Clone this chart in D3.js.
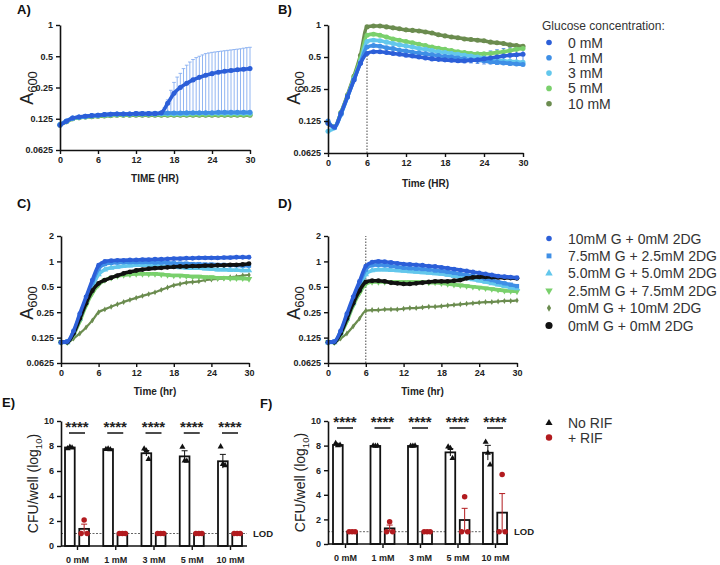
<!DOCTYPE html>
<html><head><meta charset="utf-8">
<script src="https://cdn.jsdelivr.net/npm/d3@7"></script>
<style>
body{margin:0;background:#fff;}
svg{display:block;font-family:"Liberation Sans",Arial,sans-serif;}
</style></head><body>
<svg id="c" width="720" height="565"></svg>
<script>
// ---------- DATA ----------
const hours = [0,1,2,3,4,5,6,7,8,9,10,11,12,13,14,15,16,17,18,19,20,21,22,23,24,25,26,27,28,29,30];
const xTicks = [0,6,12,18,24,30];
const yTicksAB = [0.0625,0.125,0.25,0.5,1];
const yTicksCD = [0.0625,0.125,0.25,0.5,1,2];

// Panel A
const glucoseLabels = ["0 mM","1 mM","3 mM","5 mM","10 mM"];
const a0  = [0.108,0.118,0.127,0.130,0.132,0.134,0.135,0.137,0.138,0.139,0.139,0.139,0.140,0.140,0.140,0.140,0.143,0.176,0.220,0.250,0.274,0.296,0.313,0.328,0.340,0.350,0.358,0.364,0.370,0.375,0.380];
const a1  = [0.110,0.119,0.127,0.130,0.132,0.134,0.135,0.137,0.138,0.139,0.139,0.139,0.140,0.140,0.140,0.141,0.141,0.142,0.142,0.142,0.143,0.143,0.143,0.143,0.143,0.144,0.144,0.144,0.144,0.144,0.144];
const a3  = [0.110,0.118,0.126,0.129,0.131,0.133,0.134,0.136,0.137,0.138,0.138,0.138,0.139,0.139,0.139,0.139,0.140,0.140,0.140,0.140,0.140,0.141,0.141,0.141,0.141,0.141,0.141,0.141,0.141,0.141,0.141];
const a5  = [0.109,0.117,0.125,0.128,0.130,0.132,0.133,0.134,0.135,0.136,0.136,0.136,0.137,0.137,0.137,0.137,0.137,0.137,0.137,0.137,0.137,0.137,0.137,0.137,0.137,0.137,0.137,0.137,0.137,0.137,0.137];
const a10 = [0.109,0.117,0.125,0.128,0.130,0.131,0.132,0.133,0.134,0.135,0.135,0.135,0.135,0.135,0.135,0.135,0.135,0.135,0.135,0.135,0.135,0.135,0.135,0.135,0.135,0.135,0.135,0.135,0.135,0.135,0.135];
const errTA  = [16,16.5,17,17.5,18,18.5,19,19.5,20,20.5,21,21.5,22,22.5,23,23.5,24,24.5,25,25.5,26,26.5,27,27.5,28,28.5,29,29.5,30];
const errUpA = [0.143,0.16,0.19,0.235,0.28,0.315,0.342,0.38,0.41,0.44,0.465,0.485,0.50,0.515,0.53,0.538,0.545,0.55,0.555,0.56,0.565,0.57,0.575,0.58,0.585,0.59,0.598,0.605,0.61];
const errLoA = [0.142,0.142,0.142,0.142,0.143,0.143,0.143,0.143,0.143,0.143,0.143,0.143,0.143,0.143,0.143,0.143,0.143,0.143,0.143,0.143,0.143,0.143,0.143,0.143,0.143,0.143,0.143,0.143,0.143];

// Panel B
const b0  = [0.119,0.110,0.148,0.212,0.304,0.436,0.54,0.56,0.56,0.55,0.54,0.53,0.52,0.51,0.50,0.49,0.48,0.475,0.47,0.465,0.46,0.46,0.465,0.47,0.48,0.49,0.50,0.51,0.52,0.525,0.53];
const b1  = [0.125,0.108,0.145,0.21,0.305,0.44,0.62,0.64,0.63,0.61,0.60,0.58,0.57,0.555,0.545,0.535,0.525,0.515,0.505,0.50,0.49,0.48,0.47,0.465,0.46,0.45,0.445,0.44,0.435,0.43,0.425];
const b3  = [0.10,0.108,0.145,0.21,0.31,0.45,0.70,0.72,0.71,0.69,0.67,0.65,0.635,0.62,0.60,0.59,0.575,0.56,0.55,0.54,0.53,0.52,0.51,0.50,0.49,0.48,0.47,0.46,0.455,0.45,0.445];
const b5  = [0.12,0.11,0.15,0.215,0.32,0.48,0.80,0.82,0.80,0.77,0.74,0.72,0.70,0.68,0.66,0.64,0.62,0.605,0.59,0.575,0.56,0.55,0.54,0.535,0.535,0.54,0.55,0.56,0.575,0.59,0.60];
const b10 = [0.12,0.11,0.15,0.22,0.33,0.52,0.96,0.98,0.98,0.96,0.94,0.92,0.90,0.89,0.88,0.86,0.84,0.81,0.79,0.77,0.76,0.74,0.73,0.72,0.71,0.69,0.68,0.67,0.65,0.64,0.63];
const errTB  = [20,21,22,23,24,25,26,27,28,29,30];
const errUpB = [0.47,0.49,0.51,0.53,0.55,0.57,0.585,0.60,0.61,0.62,0.63];
const errLoB = [0.45,0.44,0.44,0.435,0.43,0.43,0.425,0.425,0.42,0.42,0.42];

// Panels C & D
const mixLabels = ["10mM G + 0mM 2DG","7.5mM G + 2.5mM 2DG","5.0mM G + 5.0mM 2DG","2.5mM G + 7.5mM 2DG","0mM G + 10mM 2DG","0mM G + 0mM 2DG"];
const c10  = [0.11,0.112,0.15,0.24,0.38,0.60,0.90,1.00,1.02,1.03,1.03,1.04,1.04,1.05,1.05,1.06,1.06,1.07,1.08,1.08,1.09,1.09,1.10,1.10,1.10,1.10,1.11,1.11,1.12,1.12,1.12];
const c75  = [0.11,0.112,0.145,0.23,0.36,0.56,0.82,0.93,0.96,0.97,0.98,0.98,0.98,0.98,0.98,0.97,0.97,0.96,0.95,0.94,0.94,0.93,0.93,0.92,0.92,0.91,0.91,0.90,0.90,0.89,0.89];
const c50  = [0.11,0.11,0.14,0.21,0.33,0.50,0.70,0.80,0.84,0.86,0.88,0.89,0.90,0.90,0.90,0.89,0.88,0.87,0.86,0.85,0.84,0.83,0.83,0.82,0.81,0.80,0.80,0.79,0.79,0.78,0.78];
const c25  = [0.11,0.11,0.135,0.195,0.30,0.42,0.53,0.60,0.64,0.67,0.69,0.70,0.71,0.71,0.71,0.71,0.70,0.69,0.68,0.68,0.67,0.66,0.66,0.65,0.65,0.64,0.64,0.63,0.63,0.63,0.62];
const c00  = [0.11,0.11,0.122,0.14,0.165,0.20,0.25,0.27,0.29,0.31,0.33,0.35,0.37,0.39,0.41,0.43,0.46,0.49,0.52,0.54,0.56,0.57,0.58,0.60,0.61,0.62,0.63,0.65,0.66,0.68,0.69];
const cCtl = [0.11,0.11,0.14,0.21,0.32,0.45,0.55,0.60,0.64,0.68,0.72,0.75,0.78,0.80,0.82,0.83,0.84,0.85,0.86,0.87,0.87,0.88,0.88,0.89,0.89,0.90,0.90,0.91,0.91,0.92,0.94];

const d10  = [0.11,0.112,0.15,0.24,0.38,0.58,0.88,0.98,1.00,0.99,0.97,0.95,0.93,0.92,0.91,0.90,0.88,0.87,0.85,0.83,0.81,0.79,0.77,0.75,0.73,0.71,0.69,0.67,0.66,0.65,0.64];
const d75  = [0.11,0.112,0.145,0.23,0.36,0.55,0.80,0.90,0.91,0.90,0.88,0.86,0.84,0.83,0.82,0.81,0.80,0.78,0.77,0.75,0.73,0.71,0.69,0.67,0.65,0.62,0.60,0.57,0.55,0.53,0.51];
const d50  = [0.11,0.11,0.14,0.21,0.32,0.48,0.70,0.78,0.80,0.80,0.79,0.78,0.77,0.76,0.75,0.74,0.73,0.72,0.71,0.69,0.67,0.65,0.63,0.61,0.59,0.57,0.55,0.53,0.51,0.49,0.48];
const d25  = [0.11,0.11,0.135,0.195,0.30,0.42,0.54,0.57,0.57,0.57,0.57,0.57,0.57,0.57,0.57,0.57,0.56,0.56,0.55,0.54,0.53,0.52,0.51,0.50,0.49,0.48,0.47,0.46,0.45,0.445,0.44];
const d00  = [0.11,0.11,0.122,0.14,0.17,0.21,0.26,0.265,0.265,0.27,0.27,0.27,0.275,0.28,0.28,0.285,0.29,0.29,0.295,0.30,0.305,0.31,0.315,0.32,0.325,0.33,0.33,0.335,0.34,0.34,0.345];
const dCtl = [0.11,0.11,0.14,0.21,0.32,0.45,0.57,0.59,0.59,0.58,0.56,0.55,0.54,0.54,0.55,0.56,0.57,0.58,0.58,0.58,0.59,0.60,0.63,0.645,0.655,0.655,0.65,0.645,0.64,0.635,0.63];

// Panels E & F
const cfuCats = ["0 mM","1 mM","3 mM","5 mM","10 mM"];
const eNoMean = [7.88,7.75,7.42,7.17,6.78];
const eNoSem  = [0.05,0.03,0.22,0.45,0.55];
const eNoPts  = [[7.80,7.92,7.86],[7.74,7.78,7.72],[7.78,7.62,6.95],[7.92,6.82,6.80],[7.95,6.55,6.45]];
const eRifMean = [1.37,1.0,1.0,1.0,1.0];
const eRifSem  = [0.38,0,0,0,0];
const eRifPts  = [[2.08,1.0,1.0],[1,1,1],[1,1,1],[1,1,1],[1,1,1]];
const fNoMean = [8.05,7.97,7.97,7.45,7.42];
const fNoSem  = [0.08,0.03,0.02,0.3,0.6];
const fNoPts  = [[8.20,8.00,8.05],[7.98,7.96,7.97],[7.97,7.96,7.98],[7.90,7.78,6.97],[8.30,7.40,6.45]];
const fRifMean = [1.0,1.27,1.0,1.95,2.55];
const fRifSem  = [0,0.27,0,0.95,1.55];
const fRifPts  = [[1,1,1],[1.81,1,1],[1,1,1],[3.85,1,1],[5.65,1,1]];
const lodValue = 1;

// ---------- STYLE ----------
const COL = {blue:"#2c5fd8", mblue:"#3f8fe6", cyan:"#63c7ec", green:"#7ad06c", olive:"#6b8c4f", black:"#111", red:"#b21b1f"};
const svg = d3.select("#c");

function styleAxis(g){
  g.select(".domain").attr("stroke","#111").attr("stroke-width",1.6);
  g.selectAll(".tick line").attr("stroke","#111").attr("stroke-width",1.4);
  g.selectAll(".tick text").attr("font-size",9).attr("font-weight","bold").attr("fill","#222")
    .attr("font-family",'"Liberation Sans",Arial,sans-serif');
}
function panelLabel(txt,x,y){
  svg.append("text").attr("x",x).attr("y",y).attr("font-size",13).attr("font-weight","bold").attr("fill","#111").text(txt);
}
function a600(x,y){
  const t = svg.append("text").attr("transform",`translate(${x},${y}) rotate(-90)`).attr("text-anchor","middle").attr("fill","#222");
  t.append("tspan").attr("font-size",18).text("A");
  t.append("tspan").attr("font-size",13).attr("dy",4).text("600");
}
function symbolPath(sym,size){ return d3.symbol(sym,size)(); }

function linePanel(p){
  const x = d3.scaleLinear().domain([0,30]).range([p.x0,p.x1]);
  const y = d3.scaleLog().base(2).domain(p.yDomain).range([p.yBot,p.yTop]);
  const g = svg.append("g");
  if(p.dash){
    g.append("line").attr("x1",x(p.dash.t)).attr("x2",x(p.dash.t))
      .attr("y1",y(p.yDomain[0])).attr("y2",y(p.dash.top))
      .attr("stroke","#333").attr("stroke-width",0.9).attr("stroke-dasharray","1.5,1.5");
  }
  (p.errs||[]).forEach(e=>{
    const eg = g.append("g").attr("stroke",e.color).attr("stroke-width",0.9);
    e.t.forEach((t,i)=>{
      eg.append("line").attr("x1",x(t)).attr("x2",x(t)).attr("y1",y(e.lo[i])).attr("y2",y(e.up[i]));
      eg.append("line").attr("x1",x(t)-1.8).attr("x2",x(t)+1.8).attr("y1",y(e.up[i])).attr("y2",y(e.up[i]));
      eg.append("line").attr("x1",x(t)-1.8).attr("x2",x(t)+1.8).attr("y1",y(e.lo[i])).attr("y2",y(e.lo[i]));
    });
  });
  p.series.forEach(s=>{
    const line = d3.line().x((d,i)=>x(hours[i])).y(d=>y(d)).curve(d3.curveMonotoneX);
    g.append("path").attr("d",line(s.v)).attr("fill","none").attr("stroke",s.color).attr("stroke-width",s.w||3.6);
    g.selectAll(null).data(s.v).join("path")
      .attr("d",symbolPath(s.sym||d3.symbolCircle,s.size||20))
      .attr("transform",(d,i)=>`translate(${x(hours[i])},${y(d)})${s.rot?" rotate(180)":""}`)
      .attr("fill",s.color);
  });
  const ya = g.append("g").attr("transform",`translate(${p.x0},0)`)
    .call(d3.axisLeft(y).tickValues(p.yTicks).tickFormat(d=>String(d)).tickSize(4).tickSizeOuter(0));
  styleAxis(ya);
  const xa = g.append("g").attr("transform",`translate(0,${p.yBot})`)
    .call(d3.axisBottom(x).tickValues(xTicks).tickFormat(d=>String(d)).tickSize(4).tickSizeOuter(0));
  styleAxis(xa);
  svg.append("text").attr("x",(p.x0+p.x1)/2).attr("y",p.titleY).attr("text-anchor","middle")
    .attr("font-size",10).attr("font-weight","bold").attr("fill","#222").text(p.xTitle);
}

// Panel A
panelLabel("A)",17,14);
a600(33,88);
linePanel({x0:60,x1:250,yTop:25,yBot:150,yDomain:[0.0625,1],yTicks:yTicksAB,xTitle:"TIME (HR)",titleY:182,
  errs:[{t:errTA,up:errUpA,lo:errLoA,color:"#86aef0"}],
  series:[{v:a10,color:COL.olive},{v:a5,color:COL.green},{v:a3,color:COL.cyan},{v:a1,color:COL.mblue},{v:a0,color:COL.blue}]});

// Panel B
panelLabel("B)",278,14);
a600(300,88);
linePanel({x0:328,x1:523,yTop:25,yBot:153,yDomain:[0.0625,1],yTicks:yTicksAB,xTitle:"Time (HR)",titleY:187,
  dash:{t:6,top:b0[6]},
  errs:[{t:errTB,up:errUpB,lo:errLoB,color:"#4f86e4"}],
  series:[{v:b10,color:COL.olive},{v:b5,color:COL.green},{v:b3,color:COL.cyan},{v:b1,color:COL.mblue},{v:b0,color:COL.blue}]});
// legend B
svg.append("text").attr("x",542).attr("y",30).attr("font-size",12).attr("fill","#333").text("Glucose concentration:");
const bCols = [COL.blue,COL.mblue,COL.cyan,COL.green,COL.olive];
glucoseLabels.forEach((l,i)=>{
  const yy = 42.5 + i*15.3;
  svg.append("circle").attr("cx",549).attr("cy",yy).attr("r",2.8).attr("fill",bCols[i]);
  svg.append("text").attr("x",568).attr("y",yy+5).attr("font-size",14).attr("fill","#333").text(l);
});

// Panel C
panelLabel("C)",17,208);
a600(33,303);
const mixCols = [COL.blue,COL.mblue,COL.cyan,COL.green,COL.olive,COL.black];
const mixSyms = [d3.symbolCircle,d3.symbolSquare,d3.symbolTriangle,d3.symbolTriangle,d3.symbolDiamond,d3.symbolCircle];
function mixSeries(arrs){
  const order = [4,3,2,1,5,0];
  return order.map(i=>({v:arrs[i],color:mixCols[i],sym:mixSyms[i],rot:i===3,size:i===4?10:18,w:i===4?2.2:3.6}));
}
linePanel({x0:61,x1:249,yTop:236,yBot:363,yDomain:[0.0625,2],yTicks:yTicksCD,xTitle:"Time (hr)",titleY:395,
  series:mixSeries([c10,c75,c50,c25,c00,cCtl])});

// Panel D
panelLabel("D)",278,208);
a600(300,303);
linePanel({x0:328,x1:517,yTop:236,yBot:363,yDomain:[0.0625,2],yTicks:yTicksCD,xTitle:"Time (hr)",titleY:395,
  dash:{t:6,top:2},
  series:mixSeries([d10,d75,d50,d25,d00,dCtl])});
// legend D
mixLabels.forEach((l,i)=>{
  const yy = 238.5 + i*17.4;
  svg.append("path").attr("d",symbolPath(mixSyms[i], i===5?40:(i===4?16:24)))
    .attr("transform",`translate(549,${yy})${i===3?" rotate(180)":""}`).attr("fill",mixCols[i]);
  svg.append("text").attr("x",568).attr("y",yy+5).attr("font-size",14).attr("fill","#333").text(l);
});

// Bar panels
function barPanel(p){
  const y = d3.scaleLinear().domain([0,10]).range([p.yBot,p.yTop]);
  const x = d3.scalePoint().domain(cfuCats).range([p.c0,p.c1]);
  const sub = d3.scaleBand().domain(["no","rif"]).range([-12,12]).paddingInner(0.32);
  const g = svg.append("g");
  // LOD
  g.append("line").attr("x1",p.x0).attr("x2",p.xEnd).attr("y1",y(lodValue)).attr("y2",y(lodValue))
    .attr("stroke","#666").attr("stroke-width",1).attr("stroke-dasharray","2,1.5");
  g.append("text").attr("x",p.xEnd+6).attr("y",y(lodValue)+3.5).attr("font-size",9.5).attr("font-weight","bold").attr("fill","#222").text("LOD");
  const groups = [{k:"no",mean:p.noMean,sem:p.noSem,pts:p.noPts,col:"#111",sym:d3.symbolTriangle},
                  {k:"rif",mean:p.rifMean,sem:p.rifSem,pts:p.rifPts,col:COL.red,sym:d3.symbolCircle}];
  groups.forEach(gr=>{
    cfuCats.forEach((c,i)=>{
      const bx = x(c)+sub(gr.k), bw = sub.bandwidth();
      g.append("rect").attr("x",bx).attr("y",y(gr.mean[i])).attr("width",bw).attr("height",y(0)-y(gr.mean[i]))
        .attr("fill","#fff").attr("stroke","#111").attr("stroke-width",1.8);
      const cx = bx+bw/2;
      if(gr.sem[i]>0){
        const eg = g.append("g").attr("stroke",gr.col).attr("stroke-width",1);
        eg.append("line").attr("x1",cx).attr("x2",cx).attr("y1",y(gr.mean[i]-gr.sem[i])).attr("y2",y(gr.mean[i]+gr.sem[i]));
        eg.append("line").attr("x1",cx-3).attr("x2",cx+3).attr("y1",y(gr.mean[i]+gr.sem[i])).attr("y2",y(gr.mean[i]+gr.sem[i]));
      }
      const offs = gr.k==="no" ? [-2.2,0,2.2] : [0,-3,3];
      gr.pts[i].forEach((v,j)=>{
        g.append("path").attr("d",symbolPath(gr.sym, gr.k==="no"?16:24))
          .attr("transform",`translate(${cx+offs[j]},${y(v)})`).attr("fill",gr.col);
      });
    });
  });
  // significance
  cfuCats.forEach(c=>{
    g.append("text").attr("x",x(c)).attr("y",p.starY).attr("text-anchor","middle").attr("font-size",15)
      .attr("font-weight","bold").attr("fill","#222").text("****");
    g.append("line").attr("x1",x(c)-8).attr("x2",x(c)+8).attr("y1",p.lineY).attr("y2",p.lineY).attr("stroke","#111").attr("stroke-width",1.5);
  });
  const ya = g.append("g").attr("transform",`translate(${p.x0},0)`)
    .call(d3.axisLeft(y).tickValues([0,2,4,6,8,10]).tickSize(4).tickSizeOuter(0));
  styleAxis(ya);
  const xa = g.append("g").attr("transform",`translate(0,${p.yBot})`)
    .call(d3.axisBottom(x).tickSize(4).tickSizeOuter(0));
  xa.select(".domain").attr("d",`M${p.x0},0H${p.xEnd}`);
  styleAxis(xa);
  xa.selectAll(".tick text").attr("dy","1.1em");
  const t = svg.append("text").attr("transform",`translate(${p.x0-23},${(p.yTop+p.yBot)/2}) rotate(-90)`)
    .attr("text-anchor","middle").attr("font-size",14).attr("fill","#222");
  t.append("tspan").text("CFU/well (log");
  t.append("tspan").attr("font-size",9.5).attr("dy",4).text("10");
  t.append("tspan").attr("dy",-4).text(")");
}
panelLabel("E)",2,407);
barPanel({x0:61,xEnd:247,c0:77,c1:230,yTop:421,yBot:546,starY:432,lineY:433,
  noMean:eNoMean,noSem:eNoSem,noPts:eNoPts,rifMean:eRifMean,rifSem:eRifSem,rifPts:eRifPts});
panelLabel("F)",260,408);
barPanel({x0:328,xEnd:508,c0:345,c1:495,yTop:421,yBot:544,starY:427,lineY:428,
  noMean:fNoMean,noSem:fNoSem,noPts:fNoPts,rifMean:fRifMean,rifSem:fRifSem,rifPts:fRifPts});
// legend F
svg.append("path").attr("d",symbolPath(d3.symbolTriangle,22)).attr("transform","translate(549,423)").attr("fill","#111");
svg.append("text").attr("x",568).attr("y",428).attr("font-size",14).attr("fill","#333").text("No RIF");
svg.append("circle").attr("cx",549).attr("cy",437.5).attr("r",3.2).attr("fill",COL.red);
svg.append("text").attr("x",568).attr("y",443).attr("font-size",14).attr("fill","#333").text("+ RIF");
</script>
</body></html>
